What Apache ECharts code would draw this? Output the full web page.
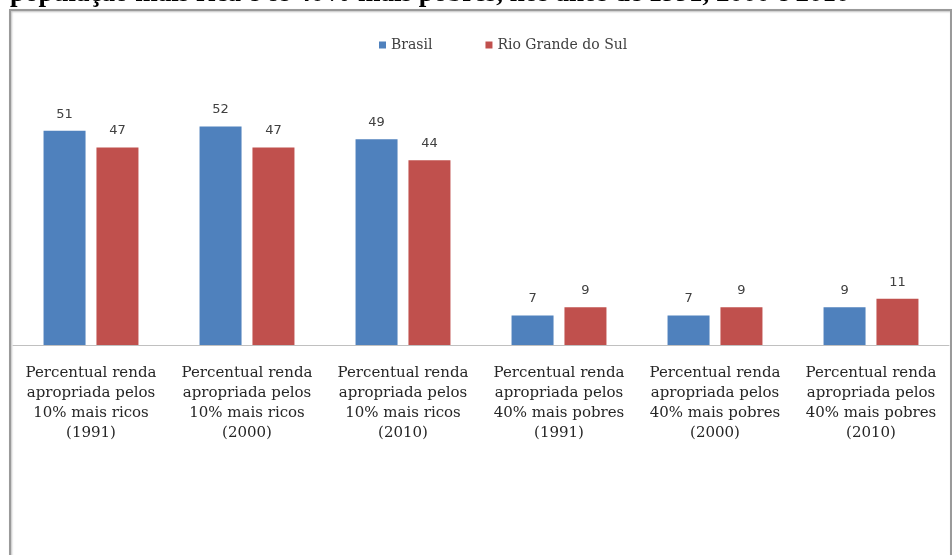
<!DOCTYPE html>
<html>
<head>
<meta charset="utf-8">
<script src="https://cdn.jsdelivr.net/npm/echarts@6/dist/echarts.min.js"></script>
<style>
  html, body { margin: 0; padding: 0; background: #fff; }
  #chart { width: 952px; height: 555px; }
</style>
</head>
<body>
<div id="chart"></div>
<script>
// Income share categories and values (%)
const categories = [
  'Percentual renda\napropriada pelos\n10% mais ricos\n(1991)',
  'Percentual renda\napropriada pelos\n10% mais ricos\n(2000)',
  'Percentual renda\napropriada pelos\n10% mais ricos\n(2010)',
  'Percentual renda\napropriada pelos\n40% mais pobres\n(1991)',
  'Percentual renda\napropriada pelos\n40% mais pobres\n(2000)',
  'Percentual renda\napropriada pelos\n40% mais pobres\n(2010)'
];
const brasil = [51, 52, 49, 7, 7, 9];
const rioGrandeDoSul = [47, 47, 44, 9, 9, 11];
const seriesNames = ['Brasil', 'Rio Grande do Sul'];
const titleText = 'população mais rica e os 40% mais pobres, nos anos de 1991, 2000 e 2010';

const chart = echarts.init(document.getElementById('chart'), null, { renderer: 'canvas' });

const valueLabel = {
  show: true,
  position: 'top',
  distance: 10,
  color: '#404040',
  fontFamily: 'DejaVu Sans',
  fontSize: 13
};

chart.setOption({
  animation: false,
  backgroundColor: '#fff',
  graphic: [
    {
      // frame around the chart area
      type: 'rect',
      shape: { x: 10, y: 10, width: 941, height: 580 },
      style: { fill: '#fff', stroke: '#9a9a9a', lineWidth: 2,
               shadowColor: 'rgba(0,0,0,0.25)', shadowBlur: 2, shadowOffsetX: 1, shadowOffsetY: 1 },
      z: -10
    },
    {
      type: 'text',
      left: 10,
      top: -19,
      style: { text: titleText, fill: '#000', font: 'bold 27px "Liberation Serif"' },
      z: 10
    }
  ],
  legend: {
    data: seriesNames,
    left: 374,
    top: 33,
    icon: 'rect',
    itemWidth: 7,
    itemHeight: 7,
    itemGap: 53,
    textStyle: { fontFamily: 'DejaVu Serif', fontSize: 14, color: '#404040' }
  },
  grid: { left: 13, right: 3, top: 93, bottom: 210, containLabel: false },
  xAxis: {
    type: 'category',
    data: categories,
    axisLine: { lineStyle: { color: '#c0c0c0', width: 1 } },
    axisTick: { show: false },
    axisLabel: {
      interval: 0,
      margin: 18,
      fontFamily: 'DejaVu Serif',
      fontSize: 15,
      lineHeight: 20,
      color: '#262626'
    }
  },
  yAxis: {
    type: 'value',
    min: 0,
    max: 60,
    show: false,
    splitLine: { show: false }
  },
  series: [
    {
      name: seriesNames[0],
      type: 'bar',
      data: brasil,
      barWidth: 42,
      barGap: '26%',
      itemStyle: { color: '#4F81BD' },
      label: valueLabel
    },
    {
      name: seriesNames[1],
      type: 'bar',
      data: rioGrandeDoSul,
      barWidth: 42,
      itemStyle: { color: '#C0504D' },
      label: valueLabel
    }
  ]
});
</script>
</body>
</html>
